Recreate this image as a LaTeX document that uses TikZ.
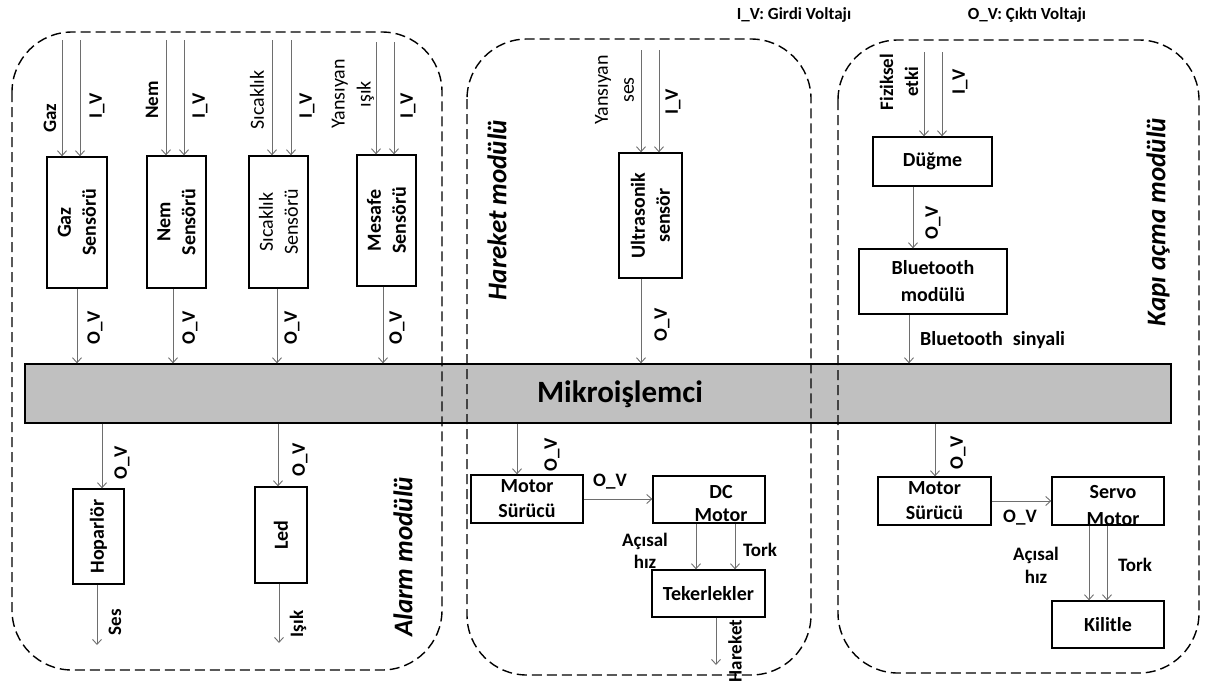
\documentclass[tikz,border=0pt]{standalone}
\usepackage{fontspec}
\setmainfont{Carlito}
\usetikzlibrary{arrows.meta}
\definecolor{linegray}{RGB}{110,110,110}
\definecolor{barfill}{RGB}{192,192,192}
\tikzset{
  box/.style={draw=black, line width=1.3pt, fill=white, inner sep=0pt, align=center,
    font=\bfseries\fontsize{20}{25}\selectfont},
  rbox/.style={box, rotate=90},
  lbl/.style={inner sep=0pt, align=center, font=\bfseries\fontsize{19}{25}\selectfont},
  lblr/.style={inner sep=0pt, align=center, font=\fontsize{20}{26}\selectfont},
  rlbl/.style={lbl, rotate=90},
  rlblr/.style={lblr, rotate=90},
  arr/.style={draw=linegray, line width=0.9pt, -{Straight Barb[length=5pt,width=9pt]}},
  module/.style={draw=black, line width=1.4pt, dash pattern=on 10pt off 5pt, rounded corners=60pt},
  modtitle/.style={inner sep=0pt, rotate=90, font=\bfseries\itshape\fontsize{27}{32}\selectfont},
  legend/.style={inner sep=0pt, font=\bfseries\fontsize{17}{20}\selectfont},
}
\begin{document}
\begin{tikzpicture}[x=1pt,y=-1pt]
\useasboundingbox (0,0) rectangle (1220,681);

% ---------- microprocessor bar ----------
\node[draw=black, line width=1.3pt, fill=barfill, minimum width=1146pt, minimum height=59pt, inner sep=0pt] (mcu) at (598,393.5) {};
\node[inner sep=0pt, font=\bfseries\fontsize{31}{36}\selectfont] (mcutxt) at (620,394) {Mikroişlemci};

% ---------- legend ----------
\node[legend] (leg1) at (794,15) {I\_V: Girdi Voltajı};
\node[legend] (leg2) at (1027,15) {O\_V: Çıktı Voltajı};

% ---------- modules ----------
\draw[module] (12,32) rectangle (442,670);
\draw[module] (467,39) rectangle (811,675);
\draw[module] (838,40) rectangle (1199,673);

\node[modtitle] (tAlarm) at (403,557) {Alarm modülü};
\node[modtitle] (tHareket) at (497,210) {Hareket modülü};
\node[modtitle] (tKapi) at (1158,222) {Kapı açma modülü};

% ---------- Alarm module: sensors ----------
\node[rbox, minimum width=131pt, minimum height=60pt] (gas) at (77,222.5) {Gaz\\Sensörü};
\node[rbox, minimum width=132pt, minimum height=59pt] (hum) at (176.5,222) {Nem\\Sensörü};
\node[rbox, minimum width=132pt, minimum height=59pt, font=\fontsize{20}{25}\selectfont] (tmp) at (278.5,222) {Sıcaklık\\Sensörü};
\node[rbox, minimum width=131pt, minimum height=59pt] (dst) at (386.5,220.5) {Mesafe\\Sensörü};

\coordinate (gi1) at (62,40);  \coordinate (gi2) at (80,40);
\coordinate (hi1) at (166,40); \coordinate (hi2) at (184,40);
\coordinate (ti1) at (272,40); \coordinate (ti2) at (291,40);
\coordinate (di1) at (376,42); \coordinate (di2) at (394,42);
\foreach \c/\b in {gi1/gas,gi2/gas,hi1/hum,hi2/hum,ti1/tmp,ti2/tmp,di1/dst,di2/dst}
  \draw[arr] (\c) -- (\c |- \b.east);

\node[rlbl] (lgas) at (50,118) {Gaz};
\node[rlbl] (lgiv) at (97,106) {I\_V};
\node[rlbl] (lhum) at (152,100) {Nem};
\node[rlbl] (lhiv) at (200,106) {I\_V};
\node[rlblr] (ltmp) at (257,100) {Sıcaklık};
\node[rlbl] (ltiv) at (307,106) {I\_V};
\node[rlblr] (ldst) at (353,94) {Yansıyan\\ışık};
\node[rlbl] (ldiv) at (408,106) {I\_V};

\coordinate (go) at (77,0);  \coordinate (ho) at (173,0);
\coordinate (to) at (277,0); \coordinate (do) at (383,0);
\foreach \c/\b in {go/gas,ho/hum,to/tmp,do/dst}
  \draw[arr] (\b.west -| \c) -- (\c |- mcu.north);

\node[rlbl] (lgo) at (95,328) {O\_V};
\node[rlbl] (lho) at (190,328) {O\_V};
\node[rlbl] (lto) at (292,328) {O\_V};
\node[rlbl] (ldo) at (397,328) {O\_V};

% ---------- Alarm module: outputs ----------
\node[rbox, minimum width=95pt, minimum height=51pt] (spk) at (98.5,536.5) {Hoparlör};
\node[rbox, minimum width=96pt, minimum height=52pt] (led) at (281,535) {Led};
\coordinate (spkx) at (102,0);
\coordinate (ledx) at (278,0);
\draw[arr] (mcu.south -| spkx) -- (spkx |- spk.east);
\draw[arr] (mcu.south -| ledx) -- (ledx |- led.east);
\node[rlbl] (lspk) at (122,463) {O\_V};
\node[rlbl] (lled) at (300,460) {O\_V};
\coordinate (ses) at (97,645);
\coordinate (isik) at (279,643);
\draw[arr] (spk.west -| ses) -- (ses);
\draw[arr] (led.west -| isik) -- (isik);
\node[rlbl] (lses) at (115,622) {Ses};
\node[rlbl] (lisik) at (298,624) {Işık};

% ---------- Hareket module ----------
\node[rbox, minimum width=125pt, minimum height=63pt] (us) at (650.5,215.5) {Ultrasonik\\sensör};
\coordinate (ui1) at (641,50); \coordinate (ui2) at (659,50);
\draw[arr] (ui1) -- (ui1 |- us.east);
\draw[arr] (ui2) -- (ui2 |- us.east);
\node[rlblr] (lus) at (614.5,90) {Yansıyan\\ses};
\node[rlbl] (luiv) at (673,102) {I\_V};
\coordinate (uo) at (641,0);
\draw[arr] (us.west -| uo) -- (uo |- mcu.north);
\node[rlbl] (luo) at (662,325) {O\_V};

\node[box, minimum width=112pt, minimum height=48pt] (ms1) at (527,499) {Motor\\Sürücü};
\node[box, minimum width=112pt, minimum height=47pt] (dc) at (709,499.5) {};
\node[lbl, font=\bfseries\fontsize{20}{23}\selectfont] (dctxt) at (721,503.5) {DC\\Motor};
\coordinate (m1x) at (517,0);
\draw[arr] (mcu.south -| m1x) -- (m1x |- ms1.north);
\node[rlbl] (lm1) at (552,455) {O\_V};
\draw[arr] (ms1.east) -- (ms1.east -| dc.west);
\node[lbl] (lms1dc) at (610,482) {O\_V};

\node[box, minimum width=113pt, minimum height=47pt] (wh) at (708.5,593.5) {Tekerlekler};
\coordinate (dw1) at (696,0); \coordinate (dw2) at (735,0);
\draw[arr] (dc.south -| dw1) -- (dw1 |- wh.north);
\draw[arr] (dc.south -| dw2) -- (dw2 |- wh.north);
\node[lbl, font=\bfseries\fontsize{19}{22}\selectfont] (lah1) at (645,551) {Açısal\\hız};
\node[lbl] (ltork1) at (760,550) {Tork};
\coordinate (hrk) at (716,665);
\draw[arr] (wh.south -| hrk) -- (hrk);
\node[rlbl] (lhrk) at (735,651) {Hareket};

% ---------- Kapı açma module ----------
\node[box, minimum width=119pt, minimum height=49pt] (btn) at (932.5,161.5) {Düğme};
\coordinate (bi1) at (924,52); \coordinate (bi2) at (942,52);
\draw[arr] (bi1) -- (bi1 |- btn.north);
\draw[arr] (bi2) -- (bi2 |- btn.north);
\node[rlbl] (lbtn) at (899,82) {Fiziksel\\etki};
\node[rlbl] (lbiv) at (960,82) {I\_V};

\node[box, minimum width=148pt, minimum height=65pt, font=\bfseries\fontsize{20}{27}\selectfont] (bt) at (933,281.5) {Bluetooth\\modülü};
\coordinate (bbx) at (913,0);
\draw[arr] (btn.south -| bbx) -- (bbx |- bt.north);
\node[rlbl] (lbb) at (933,223) {O\_V};
\coordinate (btx) at (909,0);
\draw[arr] (bt.south -| btx) -- (btx |- mcu.north);
\node[lbl, anchor=west, font=\bfseries\fontsize{20}{24}\selectfont] (lbts) at (920,340) {Bluetooth\hspace{10pt}sinyali};

\node[box, minimum width=113pt, minimum height=48pt] (ms2) at (934.5,501) {Motor\\Sürücü};
\node[box, minimum width=112pt, minimum height=48pt] (sv) at (1108,501) {};
\node[lbl, font=\bfseries\fontsize{20}{27}\selectfont] (svtxt) at (1113,506) {Servo\\Motor};
\coordinate (m2x) at (935,0);
\draw[arr] (mcu.south -| m2x) -- (m2x |- ms2.north);
\node[rlbl] (lm2) at (958,453) {O\_V};
\draw[arr] (ms2.east) -- (ms2.east -| sv.west);
\node[lbl] (lms2sv) at (1020,518) {O\_V};

\node[box, minimum width=112pt, minimum height=47pt] (kl) at (1108,624.5) {Kilitle};
\coordinate (sk1) at (1089,0); \coordinate (sk2) at (1107,0);
\draw[arr] (sv.south -| sk1) -- (sk1 |- kl.north);
\draw[arr] (sv.south -| sk2) -- (sk2 |- kl.north);
\node[lbl, font=\bfseries\fontsize{19}{23}\selectfont] (lah2) at (1036,565) {Açısal\\hız};
\node[lbl] (ltork2) at (1135,565) {Tork};
\end{tikzpicture}
\end{document}
